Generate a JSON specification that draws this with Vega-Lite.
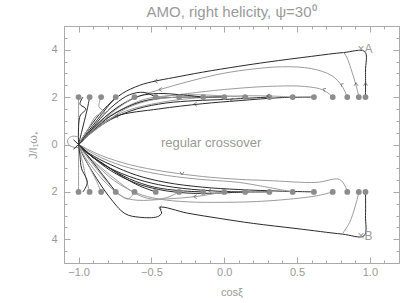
{
  "$schema": "https://vega.github.io/schema/vega-lite/v6.json",
  "width": 335,
  "height": 237,
  "autosize": {"type": "none"},
  "padding": {"left": 64, "top": 26, "right": 8, "bottom": 40},
  "background": "white",
  "config": {
    "view": {"stroke": "#aaaaaa", "strokeWidth": 1},
    "font": "Liberation Sans",
    "axis": {"grid": false, "domain": false, "tickColor": "#aaaaaa", "labelColor": "#999999", "titleColor": "#999999", "labelFont": "Liberation Sans", "titleFont": "Liberation Sans", "labelFontSize": 11, "titleFontSize": 11, "titleFontWeight": "normal", "labelOverlap": false, "labelFlush": false, "labelBound": false}
  },
  "title": {"text": "AMO, right helicity, ψ=30⁰", "fontSize": 15, "fontWeight": "normal", "color": "#9a9a9a", "font": "Liberation Sans", "baseline": "bottom", "offset": 4, "dy": 19, "anchor": "middle"},
  "datasets": {
    "traj": [
      {"id":"u1","tone":"dark","o":1,"x":0.97,"y":2.0},{"id":"u1","tone":"dark","o":2,"x":0.97,"y":3.1},{"id":"u1","tone":"dark","o":3,"x":0.965,"y":3.92},{"id":"u1","tone":"dark","o":4,"x":0.82,"y":3.88},{"id":"u1","tone":"dark","o":5,"x":0.6,"y":3.72},{"id":"u1","tone":"dark","o":6,"x":0.3,"y":3.48},{"id":"u1","tone":"dark","o":7,"x":0.1,"y":3.3},{"id":"u1","tone":"dark","o":8,"x":-0.15,"y":3.05},{"id":"u1","tone":"dark","o":9,"x":-0.35,"y":2.82},{"id":"u1","tone":"dark","o":10,"x":-0.47,"y":2.68},{"id":"u1","tone":"dark","o":11,"x":-0.58,"y":2.5},{"id":"u1","tone":"dark","o":12,"x":-0.7,"y":2.15},{"id":"u1","tone":"dark","o":13,"x":-0.8,"y":1.65},{"id":"u1","tone":"dark","o":14,"x":-0.88,"y":1.1},{"id":"u1","tone":"dark","o":15,"x":-0.95,"y":0.5},{"id":"u1","tone":"dark","o":16,"x":-1.0,"y":0.0},
      {"id":"u1b","tone":"light","o":1,"x":0.925,"y":2.0},{"id":"u1b","tone":"light","o":2,"x":0.905,"y":2.5},{"id":"u1b","tone":"light","o":3,"x":0.87,"y":3.2},{"id":"u1b","tone":"light","o":4,"x":0.84,"y":3.7},{"id":"u1b","tone":"light","o":5,"x":0.82,"y":3.88},
      {"id":"u2","tone":"light","o":1,"x":0.845,"y":2.0},{"id":"u2","tone":"light","o":2,"x":0.81,"y":2.45},{"id":"u2","tone":"light","o":3,"x":0.74,"y":2.9},{"id":"u2","tone":"light","o":4,"x":0.6,"y":3.2},{"id":"u2","tone":"light","o":5,"x":0.4,"y":3.28},{"id":"u2","tone":"light","o":6,"x":0.15,"y":3.15},{"id":"u2","tone":"light","o":7,"x":-0.05,"y":2.95},{"id":"u2","tone":"light","o":8,"x":-0.25,"y":2.65},{"id":"u2","tone":"light","o":9,"x":-0.44,"y":2.32},{"id":"u2","tone":"light","o":10,"x":-0.6,"y":2.0},{"id":"u2","tone":"light","o":11,"x":-0.72,"y":1.6},{"id":"u2","tone":"light","o":12,"x":-0.84,"y":1.05},{"id":"u2","tone":"light","o":13,"x":-0.93,"y":0.5},{"id":"u2","tone":"light","o":14,"x":-1.0,"y":0.0},
      {"id":"u3","tone":"light","o":1,"x":0.745,"y":2.0},{"id":"u3","tone":"light","o":2,"x":0.68,"y":2.3},{"id":"u3","tone":"light","o":3,"x":0.55,"y":2.45},{"id":"u3","tone":"light","o":4,"x":0.3,"y":2.45},{"id":"u3","tone":"light","o":5,"x":0.0,"y":2.32},{"id":"u3","tone":"light","o":6,"x":-0.25,"y":2.15},{"id":"u3","tone":"light","o":7,"x":-0.45,"y":1.98},{"id":"u3","tone":"light","o":8,"x":-0.62,"y":1.7},{"id":"u3","tone":"light","o":9,"x":-0.76,"y":1.3},{"id":"u3","tone":"light","o":10,"x":-0.88,"y":0.8},{"id":"u3","tone":"light","o":11,"x":-0.95,"y":0.4},{"id":"u3","tone":"light","o":12,"x":-1.0,"y":0.0},
      {"id":"u4","tone":"dark","o":1,"x":0.616,"y":2.0},{"id":"u4","tone":"dark","o":2,"x":0.4,"y":1.98},{"id":"u4","tone":"dark","o":3,"x":0.1,"y":1.85},{"id":"u4","tone":"dark","o":4,"x":-0.15,"y":1.72},{"id":"u4","tone":"dark","o":5,"x":-0.45,"y":1.5},{"id":"u4","tone":"dark","o":6,"x":-0.74,"y":1.2},{"id":"u4","tone":"dark","o":7,"x":-0.87,"y":0.75},{"id":"u4","tone":"dark","o":8,"x":-0.95,"y":0.35},{"id":"u4","tone":"dark","o":9,"x":-1.0,"y":0.0},
      {"id":"u5","tone":"light","o":1,"x":0.47,"y":2.0},{"id":"u5","tone":"light","o":2,"x":0.3,"y":2.05},{"id":"u5","tone":"light","o":3,"x":0.1,"y":2.05},{"id":"u5","tone":"light","o":4,"x":-0.1,"y":2.0},{"id":"u5","tone":"light","o":5,"x":-0.3,"y":1.9},{"id":"u5","tone":"light","o":6,"x":-0.5,"y":1.7},{"id":"u5","tone":"light","o":7,"x":-0.68,"y":1.4},{"id":"u5","tone":"light","o":8,"x":-0.82,"y":0.95},{"id":"u5","tone":"light","o":9,"x":-0.93,"y":0.45},{"id":"u5","tone":"light","o":10,"x":-1.0,"y":0.0},
      {"id":"u6","tone":"dark","o":1,"x":0.31,"y":2.0},{"id":"u6","tone":"dark","o":2,"x":0.15,"y":1.95},{"id":"u6","tone":"dark","o":3,"x":0.0,"y":1.9},{"id":"u6","tone":"dark","o":4,"x":-0.2,"y":1.85},{"id":"u6","tone":"dark","o":5,"x":-0.4,"y":1.75},{"id":"u6","tone":"dark","o":6,"x":-0.6,"y":1.5},{"id":"u6","tone":"dark","o":7,"x":-0.78,"y":1.05},{"id":"u6","tone":"dark","o":8,"x":-0.9,"y":0.55},{"id":"u6","tone":"dark","o":9,"x":-1.0,"y":0.0},
      {"id":"u7","tone":"light","o":1,"x":0.144,"y":2.0},{"id":"u7","tone":"light","o":2,"x":0.0,"y":2.05},{"id":"u7","tone":"light","o":3,"x":-0.2,"y":2.1},{"id":"u7","tone":"light","o":4,"x":-0.4,"y":2.05},{"id":"u7","tone":"light","o":5,"x":-0.55,"y":1.9},{"id":"u7","tone":"light","o":6,"x":-0.7,"y":1.5},{"id":"u7","tone":"light","o":7,"x":-0.85,"y":0.9},{"id":"u7","tone":"light","o":8,"x":-0.95,"y":0.4},{"id":"u7","tone":"light","o":9,"x":-1.0,"y":0.0},
      {"id":"u8","tone":"dark","o":1,"x":0.0,"y":2.0},{"id":"u8","tone":"dark","o":2,"x":-0.15,"y":2.0},{"id":"u8","tone":"dark","o":3,"x":-0.3,"y":2.0},{"id":"u8","tone":"dark","o":4,"x":-0.48,"y":1.92},{"id":"u8","tone":"dark","o":5,"x":-0.62,"y":1.7},{"id":"u8","tone":"dark","o":6,"x":-0.78,"y":1.2},{"id":"u8","tone":"dark","o":7,"x":-0.9,"y":0.6},{"id":"u8","tone":"dark","o":8,"x":-1.0,"y":0.0},
      {"id":"u9","tone":"dark","o":1,"x":-0.144,"y":2.0},{"id":"u9","tone":"dark","o":2,"x":-0.3,"y":2.1},{"id":"u9","tone":"dark","o":3,"x":-0.45,"y":2.15},{"id":"u9","tone":"dark","o":4,"x":-0.58,"y":2.05},{"id":"u9","tone":"dark","o":5,"x":-0.7,"y":1.7},{"id":"u9","tone":"dark","o":6,"x":-0.82,"y":1.15},{"id":"u9","tone":"dark","o":7,"x":-0.92,"y":0.55},{"id":"u9","tone":"dark","o":8,"x":-1.0,"y":0.0},
      {"id":"u10","tone":"light","o":1,"x":-0.31,"y":2.0},{"id":"u10","tone":"light","o":2,"x":-0.42,"y":1.95},{"id":"u10","tone":"light","o":3,"x":-0.55,"y":1.8},{"id":"u10","tone":"light","o":4,"x":-0.68,"y":1.5},{"id":"u10","tone":"light","o":5,"x":-0.8,"y":1.0},{"id":"u10","tone":"light","o":6,"x":-0.91,"y":0.5},{"id":"u10","tone":"light","o":7,"x":-1.0,"y":0.0},
      {"id":"u11","tone":"dark","o":1,"x":-0.47,"y":2.0},{"id":"u11","tone":"dark","o":2,"x":-0.55,"y":2.2},{"id":"u11","tone":"dark","o":3,"x":-0.65,"y":2.1},{"id":"u11","tone":"dark","o":4,"x":-0.75,"y":1.7},{"id":"u11","tone":"dark","o":5,"x":-0.85,"y":1.1},{"id":"u11","tone":"dark","o":6,"x":-0.93,"y":0.5},{"id":"u11","tone":"dark","o":7,"x":-1.0,"y":0.0},
      {"id":"u12","tone":"light","o":1,"x":-0.616,"y":2.0},{"id":"u12","tone":"light","o":2,"x":-0.68,"y":1.75},{"id":"u12","tone":"light","o":3,"x":-0.77,"y":1.35},{"id":"u12","tone":"light","o":4,"x":-0.86,"y":0.85},{"id":"u12","tone":"light","o":5,"x":-0.94,"y":0.4},{"id":"u12","tone":"light","o":6,"x":-1.0,"y":0.0},
      {"id":"u13","tone":"dark","o":1,"x":-0.745,"y":2.0},{"id":"u13","tone":"dark","o":2,"x":-0.8,"y":1.6},{"id":"u13","tone":"dark","o":3,"x":-0.87,"y":1.05},{"id":"u13","tone":"dark","o":4,"x":-0.94,"y":0.5},{"id":"u13","tone":"dark","o":5,"x":-1.0,"y":0.0},
      {"id":"u14","tone":"light","o":1,"x":-0.845,"y":2.0},{"id":"u14","tone":"light","o":2,"x":-0.86,"y":1.6},{"id":"u14","tone":"light","o":3,"x":-0.82,"y":1.35},{"id":"u14","tone":"light","o":4,"x":-0.88,"y":1.2},{"id":"u14","tone":"light","o":5,"x":-0.93,"y":0.7},{"id":"u14","tone":"light","o":6,"x":-0.97,"y":0.3},{"id":"u14","tone":"light","o":7,"x":-1.0,"y":0.0},
      {"id":"u15","tone":"dark","o":1,"x":-0.924,"y":2.0},{"id":"u15","tone":"dark","o":2,"x":-0.94,"y":1.5},{"id":"u15","tone":"dark","o":3,"x":-0.96,"y":1.0},{"id":"u15","tone":"dark","o":4,"x":-0.98,"y":0.5},{"id":"u15","tone":"dark","o":5,"x":-1.0,"y":0.0},
      {"id":"u16","tone":"light","o":1,"x":-1.0,"y":2.0},{"id":"u16","tone":"light","o":2,"x":-1.0,"y":1.0},{"id":"u16","tone":"light","o":3,"x":-1.0,"y":0.0},
      {"id":"u17","tone":"dark","o":1,"x":-0.97,"y":2.0},{"id":"u17","tone":"dark","o":2,"x":-0.99,"y":1.7},{"id":"u17","tone":"dark","o":3,"x":-0.95,"y":1.5},{"id":"u17","tone":"dark","o":4,"x":-0.99,"y":1.2},{"id":"u17","tone":"dark","o":5,"x":-1.0,"y":0.0},
      {"id":"l1","tone":"dark","o":1,"x":0.97,"y":-2.0},{"id":"l1","tone":"dark","o":2,"x":0.97,"y":-3.0},{"id":"l1","tone":"dark","o":3,"x":0.96,"y":-3.85},{"id":"l1","tone":"dark","o":4,"x":0.81,"y":-3.78},{"id":"l1","tone":"dark","o":5,"x":0.5,"y":-3.55},{"id":"l1","tone":"dark","o":6,"x":0.2,"y":-3.33},{"id":"l1","tone":"dark","o":7,"x":-0.03,"y":-3.12},{"id":"l1","tone":"dark","o":8,"x":-0.25,"y":-2.9},{"id":"l1","tone":"dark","o":9,"x":-0.44,"y":-2.66},{"id":"l1","tone":"dark","o":10,"x":-0.43,"y":-2.9},{"id":"l1","tone":"dark","o":11,"x":-0.46,"y":-3.05},{"id":"l1","tone":"dark","o":12,"x":-0.58,"y":-3.07},{"id":"l1","tone":"dark","o":13,"x":-0.68,"y":-2.92},{"id":"l1","tone":"dark","o":14,"x":-0.79,"y":-2.2},{"id":"l1","tone":"dark","o":15,"x":-0.9,"y":-1.2},{"id":"l1","tone":"dark","o":16,"x":-0.97,"y":-0.45},{"id":"l1","tone":"dark","o":17,"x":-1.0,"y":0.0},
      {"id":"l1b","tone":"light","o":1,"x":0.925,"y":-2.0},{"id":"l1b","tone":"light","o":2,"x":0.9,"y":-2.6},{"id":"l1b","tone":"light","o":3,"x":0.86,"y":-3.3},{"id":"l1b","tone":"light","o":4,"x":0.81,"y":-3.78},
      {"id":"l2","tone":"light","o":1,"x":0.845,"y":-2.0},{"id":"l2","tone":"light","o":2,"x":0.83,"y":-1.75},{"id":"l2","tone":"light","o":3,"x":0.79,"y":-1.47},{"id":"l2","tone":"light","o":4,"x":0.63,"y":-1.6},{"id":"l2","tone":"light","o":5,"x":0.3,"y":-1.52},{"id":"l2","tone":"light","o":6,"x":0.1,"y":-1.47},{"id":"l2","tone":"light","o":7,"x":-0.15,"y":-1.35},{"id":"l2","tone":"light","o":8,"x":-0.4,"y":-1.15},{"id":"l2","tone":"light","o":9,"x":-0.65,"y":-0.85},{"id":"l2","tone":"light","o":10,"x":-0.85,"y":-0.45},{"id":"l2","tone":"light","o":11,"x":-1.0,"y":0.0},
      {"id":"l3","tone":"light","o":1,"x":0.745,"y":-2.0},{"id":"l3","tone":"light","o":2,"x":0.63,"y":-2.17},{"id":"l3","tone":"light","o":3,"x":0.3,"y":-2.38},{"id":"l3","tone":"light","o":4,"x":0.0,"y":-2.44},{"id":"l3","tone":"light","o":5,"x":-0.25,"y":-2.42},{"id":"l3","tone":"light","o":6,"x":-0.45,"y":-2.3},{"id":"l3","tone":"light","o":7,"x":-0.6,"y":-2.05},{"id":"l3","tone":"light","o":8,"x":-0.75,"y":-1.55},{"id":"l3","tone":"light","o":9,"x":-0.88,"y":-0.85},{"id":"l3","tone":"light","o":10,"x":-0.96,"y":-0.35},{"id":"l3","tone":"light","o":11,"x":-1.0,"y":0.0},
      {"id":"l4","tone":"dark","o":1,"x":0.616,"y":-2.0},{"id":"l4","tone":"dark","o":2,"x":0.4,"y":-1.97},{"id":"l4","tone":"dark","o":3,"x":0.1,"y":-1.9},{"id":"l4","tone":"dark","o":4,"x":-0.15,"y":-1.8},{"id":"l4","tone":"dark","o":5,"x":-0.4,"y":-1.6},{"id":"l4","tone":"dark","o":6,"x":-0.6,"y":-1.3},{"id":"l4","tone":"dark","o":7,"x":-0.78,"y":-0.85},{"id":"l4","tone":"dark","o":8,"x":-0.92,"y":-0.4},{"id":"l4","tone":"dark","o":9,"x":-1.0,"y":0.0},
      {"id":"l5","tone":"light","o":1,"x":0.47,"y":-2.0},{"id":"l5","tone":"light","o":2,"x":0.25,"y":-1.75},{"id":"l5","tone":"light","o":3,"x":0.1,"y":-1.6},{"id":"l5","tone":"light","o":4,"x":-0.2,"y":-1.45},{"id":"l5","tone":"light","o":5,"x":-0.45,"y":-1.25},{"id":"l5","tone":"light","o":6,"x":-0.7,"y":-0.9},{"id":"l5","tone":"light","o":7,"x":-0.88,"y":-0.45},{"id":"l5","tone":"light","o":8,"x":-1.0,"y":0.0},
      {"id":"l6","tone":"dark","o":1,"x":0.31,"y":-2.0},{"id":"l6","tone":"dark","o":2,"x":0.1,"y":-2.0},{"id":"l6","tone":"dark","o":3,"x":-0.1,"y":-1.95},{"id":"l6","tone":"dark","o":4,"x":-0.35,"y":-1.8},{"id":"l6","tone":"dark","o":5,"x":-0.55,"y":-1.55},{"id":"l6","tone":"dark","o":6,"x":-0.75,"y":-1.1},{"id":"l6","tone":"dark","o":7,"x":-0.9,"y":-0.55},{"id":"l6","tone":"dark","o":8,"x":-1.0,"y":0.0},
      {"id":"l7","tone":"dark","o":1,"x":0.144,"y":-2.0},{"id":"l7","tone":"dark","o":2,"x":-0.05,"y":-2.05},{"id":"l7","tone":"dark","o":3,"x":-0.25,"y":-2.05},{"id":"l7","tone":"dark","o":4,"x":-0.45,"y":-1.9},{"id":"l7","tone":"dark","o":5,"x":-0.62,"y":-1.6},{"id":"l7","tone":"dark","o":6,"x":-0.78,"y":-1.1},{"id":"l7","tone":"dark","o":7,"x":-0.91,"y":-0.5},{"id":"l7","tone":"dark","o":8,"x":-1.0,"y":0.0},
      {"id":"l8","tone":"light","o":1,"x":0.0,"y":-2.0},{"id":"l8","tone":"light","o":2,"x":-0.2,"y":-2.2},{"id":"l8","tone":"light","o":3,"x":-0.4,"y":-2.3},{"id":"l8","tone":"light","o":4,"x":-0.6,"y":-2.35},{"id":"l8","tone":"light","o":5,"x":-0.7,"y":-2.2},{"id":"l8","tone":"light","o":6,"x":-0.8,"y":-1.7},{"id":"l8","tone":"light","o":7,"x":-0.9,"y":-1.0},{"id":"l8","tone":"light","o":8,"x":-0.97,"y":-0.4},{"id":"l8","tone":"light","o":9,"x":-1.0,"y":0.0},
      {"id":"l9","tone":"dark","o":1,"x":-0.144,"y":-2.0},{"id":"l9","tone":"dark","o":2,"x":-0.3,"y":-1.95},{"id":"l9","tone":"dark","o":3,"x":-0.48,"y":-1.8},{"id":"l9","tone":"dark","o":4,"x":-0.65,"y":-1.45},{"id":"l9","tone":"dark","o":5,"x":-0.8,"y":-0.95},{"id":"l9","tone":"dark","o":6,"x":-0.92,"y":-0.45},{"id":"l9","tone":"dark","o":7,"x":-1.0,"y":0.0},
      {"id":"l10","tone":"light","o":1,"x":-0.31,"y":-2.0},{"id":"l10","tone":"light","o":2,"x":-0.4,"y":-2.25},{"id":"l10","tone":"light","o":3,"x":-0.5,"y":-2.3},{"id":"l10","tone":"light","o":4,"x":-0.6,"y":-2.1},{"id":"l10","tone":"light","o":5,"x":-0.72,"y":-1.6},{"id":"l10","tone":"light","o":6,"x":-0.85,"y":-0.95},{"id":"l10","tone":"light","o":7,"x":-0.95,"y":-0.4},{"id":"l10","tone":"light","o":8,"x":-1.0,"y":0.0},
      {"id":"l11","tone":"dark","o":1,"x":-0.47,"y":-2.0},{"id":"l11","tone":"dark","o":2,"x":-0.58,"y":-1.75},{"id":"l11","tone":"dark","o":3,"x":-0.7,"y":-1.35},{"id":"l11","tone":"dark","o":4,"x":-0.82,"y":-0.85},{"id":"l11","tone":"dark","o":5,"x":-0.93,"y":-0.4},{"id":"l11","tone":"dark","o":6,"x":-1.0,"y":0.0},
      {"id":"l12","tone":"light","o":1,"x":-0.616,"y":-2.0},{"id":"l12","tone":"light","o":2,"x":-0.66,"y":-2.3},{"id":"l12","tone":"light","o":3,"x":-0.72,"y":-2.1},{"id":"l12","tone":"light","o":4,"x":-0.8,"y":-1.6},{"id":"l12","tone":"light","o":5,"x":-0.88,"y":-1.0},{"id":"l12","tone":"light","o":6,"x":-0.95,"y":-0.45},{"id":"l12","tone":"light","o":7,"x":-1.0,"y":0.0},
      {"id":"l13","tone":"dark","o":1,"x":-0.745,"y":-2.0},{"id":"l13","tone":"dark","o":2,"x":-0.8,"y":-1.55},{"id":"l13","tone":"dark","o":3,"x":-0.87,"y":-1.0},{"id":"l13","tone":"dark","o":4,"x":-0.94,"y":-0.45},{"id":"l13","tone":"dark","o":5,"x":-1.0,"y":0.0},
      {"id":"l14","tone":"light","o":1,"x":-0.845,"y":-2.0},{"id":"l14","tone":"light","o":2,"x":-0.88,"y":-1.5},{"id":"l14","tone":"light","o":3,"x":-0.93,"y":-0.9},{"id":"l14","tone":"light","o":4,"x":-0.97,"y":-0.4},{"id":"l14","tone":"light","o":5,"x":-1.0,"y":0.0},
      {"id":"l15","tone":"light","o":1,"x":-0.924,"y":-2.0},{"id":"l15","tone":"light","o":2,"x":-0.95,"y":-1.4},{"id":"l15","tone":"light","o":3,"x":-0.97,"y":-0.8},{"id":"l15","tone":"light","o":4,"x":-0.99,"y":-0.3},{"id":"l15","tone":"light","o":5,"x":-1.0,"y":0.0},
      {"id":"l16","tone":"light","o":1,"x":-1.0,"y":-2.0},{"id":"l16","tone":"light","o":2,"x":-1.0,"y":-1.0},{"id":"l16","tone":"light","o":3,"x":-1.0,"y":0.0},
      {"id":"l17","tone":"dark","o":1,"x":-0.97,"y":-2.0},{"id":"l17","tone":"dark","o":2,"x":-0.94,"y":-1.6},{"id":"l17","tone":"dark","o":3,"x":-0.98,"y":-1.0},{"id":"l17","tone":"dark","o":4,"x":-0.99,"y":-0.5},{"id":"l17","tone":"dark","o":5,"x":-1.0,"y":0.0},
      {"id":"c","tone":"light","o":1,"x":-1.0,"y":0.32},{"id":"c","tone":"light","o":2,"x":-1.04,"y":0.35},{"id":"c","tone":"light","o":3,"x":-1.07,"y":0.25},{"id":"c","tone":"light","o":4,"x":-1.075,"y":0.1},{"id":"c","tone":"light","o":5,"x":-1.06,"y":-0.05},{"id":"c","tone":"light","o":6,"x":-1.03,"y":-0.12},{"id":"c","tone":"light","o":7,"x":-1.0,"y":-0.12},
      {"id":"x1","tone":"dark","o":1,"x":-1.035,"y":0.2},{"id":"x1","tone":"dark","o":2,"x":-0.965,"y":-0.2},
      {"id":"x2","tone":"dark","o":1,"x":-1.035,"y":-0.2},{"id":"x2","tone":"dark","o":2,"x":-0.965,"y":0.2}
    ],
    "pts": [
      {"x":-1.0,"y":2},{"x":-0.924,"y":2},{"x":-0.845,"y":2},{"x":-0.745,"y":2},{"x":-0.616,"y":2},{"x":-0.47,"y":2},{"x":-0.31,"y":2},{"x":-0.144,"y":2},{"x":0.0,"y":2},{"x":0.144,"y":2},{"x":0.31,"y":2},{"x":0.47,"y":2},{"x":0.616,"y":2},{"x":0.745,"y":2},{"x":0.845,"y":2},{"x":0.924,"y":2},{"x":0.97,"y":2},
      {"x":-1.0,"y":-2},{"x":-0.924,"y":-2},{"x":-0.845,"y":-2},{"x":-0.745,"y":-2},{"x":-0.616,"y":-2},{"x":-0.47,"y":-2},{"x":-0.31,"y":-2},{"x":-0.144,"y":-2},{"x":0.0,"y":-2},{"x":0.144,"y":-2},{"x":0.31,"y":-2},{"x":0.47,"y":-2},{"x":0.616,"y":-2},{"x":0.745,"y":-2},{"x":0.845,"y":-2},{"x":0.924,"y":-2},{"x":0.97,"y":-2}
    ],
    "arrows": [
      {"x":0.905,"y":2.55,"dir":"up"},{"x":0.97,"y":2.55,"dir":"up"},{"x":0.81,"y":2.5,"dir":"upleft"},{"x":0.69,"y":2.3,"dir":"upleft"},
      {"x":0.3,"y":2.05,"dir":"left"},{"x":0.05,"y":1.88,"dir":"left"},{"x":-0.47,"y":2.68,"dir":"left"},{"x":-0.44,"y":2.32,"dir":"left"},{"x":-0.2,"y":1.7,"dir":"left"},{"x":-0.74,"y":1.2,"dir":"left"},
      {"x":-0.29,"y":-1.22,"dir":"down"},{"x":-0.44,"y":-2.66,"dir":"left"},{"x":-0.1,"y":-1.95,"dir":"left"},{"x":-0.2,"y":-2.2,"dir":"left"}
    ],
    "labels": [
      {"x":-0.09,"y":0.05,"t":"regular crossover","k":"mid"},
      {"x":0.966,"y":4.03,"t":"×A","k":"side"},
      {"x":0.966,"y":-3.87,"t":"×B","k":"side"}
    ]
  },
  "resolve": {"axis": {"x": "independent", "y": "independent"}},
  "layer": [
    {
      "data": {"name": "traj"},
      "mark": {"type": "line", "strokeWidth": 1, "interpolate": "catmull-rom"},
      "encoding": {
        "x": {"field": "x", "type": "quantitative", "scale": {"domain": [-1.1, 1.2], "nice": false, "zero": false},
              "axis": {"orient": "top", "title": null, "labels": false, "minExtent": 0, "maxExtent": 0, "values": [-1.1,-1,-0.9,-0.8,-0.7,-0.6,-0.5,-0.4,-0.3,-0.2,-0.1,0,0.1,0.2,0.3,0.4,0.5,0.6,0.7,0.8,0.9,1,1.1,1.2],
                       "tickSize": {"condition": {"test": "abs(datum.value*2 - round(datum.value*2)) < 0.001", "value": -6}, "value": -3}}},
        "y": {"field": "y", "type": "quantitative", "scale": {"domain": [-5, 5], "nice": false, "zero": false},
              "axis": {"orient": "right", "title": null, "labels": false, "minExtent": 0, "maxExtent": 0, "values": [-5,-4.5,-4,-3.5,-3,-2.5,-2,-1.5,-1,-0.5,0,0.5,1,1.5,2,2.5,3,3.5,4,4.5,5],
                       "tickSize": {"condition": {"test": "abs(datum.value % 2) < 0.001 && abs(datum.value) < 5", "value": -6}, "value": -3}}},
        "detail": {"field": "id"},
        "order": {"field": "o", "type": "quantitative"},
        "color": {"field": "tone", "type": "nominal", "scale": {"domain": ["dark", "light"], "range": ["#2a2a2a", "#9c9c9c"]}, "legend": null}
      }
    },
    {
      "data": {"name": "pts"},
      "mark": {"type": "point", "filled": true, "size": 34, "color": "#8c8c8c", "opacity": 1},
      "encoding": {
        "x": {"field": "x", "type": "quantitative",
              "axis": {"orient": "bottom", "title": "cosξ", "titlePadding": 6, "labelPadding": 9, "values": [-1.1,-1,-0.9,-0.8,-0.7,-0.6,-0.5,-0.4,-0.3,-0.2,-0.1,0,0.1,0.2,0.3,0.4,0.5,0.6,0.7,0.8,0.9,1,1.1,1.2],
                       "labelExpr": "abs(datum.value*2 - round(datum.value*2)) < 0.001 ? format(datum.value, '.1f') : ''",
                       "tickSize": {"condition": {"test": "abs(datum.value*2 - round(datum.value*2)) < 0.001", "value": -6}, "value": -3}}},
        "y": {"field": "y", "type": "quantitative",
              "axis": {"orient": "left", "title": "J/I₁ω₊", "titlePadding": 12, "labelPadding": 13, "values": [-5,-4.5,-4,-3.5,-3,-2.5,-2,-1.5,-1,-0.5,0,0.5,1,1.5,2,2.5,3,3.5,4,4.5,5],
                       "labelExpr": "abs(datum.value % 2) < 0.001 && abs(datum.value) < 5 ? format(abs(datum.value), 'd') : ''",
                       "tickSize": {"condition": {"test": "abs(datum.value % 2) < 0.001 && abs(datum.value) < 5", "value": -6}, "value": -3}}}
      }
    },
    {
      "data": {"name": "arrows"},
      "mark": {"type": "point", "filled": false, "size": 30, "strokeWidth": 1, "color": "#555555"},
      "encoding": {
        "x": {"field": "x", "type": "quantitative", "axis": null},
        "y": {"field": "y", "type": "quantitative", "axis": null},
        "shape": {"field": "dir", "type": "nominal", "legend": null,
                  "scale": {"domain": ["left", "up", "upleft", "down"],
                            "range": ["M 0.6 -0.7 L -0.5 0 L 0.6 0.7", "M -0.7 0.6 L 0 -0.5 L 0.7 0.6", "M 0.5 -0.6 L -0.5 -0.4 L -0.1 0.6", "M -0.7 -0.6 L 0 0.5 L 0.7 -0.6"]}}
      }
    },
    {
      "data": {"name": "labels"},
      "mark": {"type": "text", "color": "#999999", "font": "Liberation Sans"},
      "encoding": {
        "x": {"field": "x", "type": "quantitative", "axis": null},
        "y": {"field": "y", "type": "quantitative", "axis": null},
        "text": {"field": "t"},
        "align": {"condition": {"test": "datum.k === 'mid'", "value": "center"}, "value": "left"},
        "baseline": {"condition": {"test": "datum.k === 'mid'", "value": "middle"}, "value": "alphabetic"},
        "size": {"condition": {"test": "datum.k === 'mid'", "value": 13}, "value": 12}
      }
    }
  ]
}
